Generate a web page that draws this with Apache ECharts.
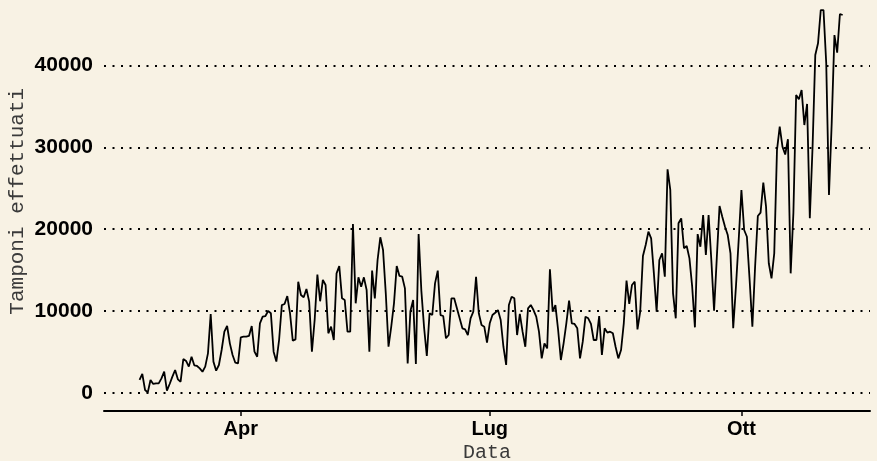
<!DOCTYPE html>
<html>
<head>
<meta charset="utf-8">
<script src="https://cdn.jsdelivr.net/npm/echarts@6/dist/echarts.min.js"></script>
<style>
  html, body { margin: 0; padding: 0; background: #f8f2e4; }
  #chart { width: 877px; height: 461px; }
</style>
</head>
<body>
<div id="chart"></div>
<script>
// daily tests, starting 2020-02-24
var firstDay = '2020-02-24';
var tamponi = [
  1590, 2320, 370, 80, 1590, 1100, 1180, 1180, 1790, 2600,
  290, 1100, 2000, 2810, 1670, 1380, 4150, 3910, 3220, 4430,
  3380, 3300, 3010, 2600, 3220, 4840, 9650, 3830, 2720, 3420,
  5250, 7490, 8180, 6060, 4640, 3700, 3620, 6800, 6880, 6880,
  6960, 8180, 5050, 4430, 8500, 9320, 9400, 10010, 9730, 5050,
  3830, 6470, 10740, 10870, 11840, 9730, 6390, 6550, 13590, 11970,
  11680, 12700, 11150, 5050, 8910, 14450, 11200, 13800, 13190, 7290,
  8100, 6470, 14610, 15510, 11560, 11350, 7490, 7490, 20630, 10950,
  14120, 12980, 14120, 12580, 5050, 14940, 11560, 16240, 19010, 17460,
  12170, 5650, 8100, 10950, 15510, 14290, 14200, 12780, 3620, 10000,
  11350, 3540, 19410, 12500, 8000, 4520, 9730, 9520, 13390, 14940,
  9520, 9400, 6680, 7080, 11560, 11560, 10340, 9120, 7900, 7780,
  7080, 9120, 9930, 14200, 9730, 8300, 8100, 6140, 8510, 9520,
  9800, 10130, 8910, 5650, 3420, 10740, 11760, 11560, 7080, 9650,
  7490, 5650, 10340, 10740, 10130, 9320, 7490, 4230, 6060, 5450,
  15100, 9930, 10740, 7690, 4030, 6060, 8510, 11270, 8510, 8430,
  7900, 4230, 6270, 9320, 9120, 8430, 6470, 6470, 9400, 4640,
  7900, 7370, 7490, 7290, 5650, 4230, 5250, 8510, 13720, 10870,
  13190, 13590, 7770, 9930, 16730, 18070, 19700, 18890, 14610, 9930,
  16240, 17060, 14200, 27310, 24790, 12170, 9120, 20720, 21330, 17670,
  17950, 16440, 12980, 8020, 19400, 17860, 21730, 16850, 21730, 16240,
  10050, 16500, 22830, 21530, 20310, 19290, 17060, 7900, 13000, 18680,
  24790, 19900, 19080, 13800, 8100, 15420, 21610, 22020, 25680, 22750,
  15840, 14000, 17060, 29670, 32520, 30080, 29120, 30980, 14610, 22000,
  36390, 35860, 37000, 32720, 35290, 21330, 30000, 41270, 42700, 46760,
  46760, 40260, 24180, 32930, 43710, 41550, 46280, 46150
];
var padBefore = 13;   // empty days shown before the first value
var padAfter = 10;    // empty days shown after the last value
var monthLabels = { '04': 'Apr', '07': 'Lug', '10': 'Ott' };
var yTicks = [0, 10000, 20000, 30000, 40000];

function dayString(offset) {
  var d = new Date(firstDay + 'T00:00:00Z');
  d.setUTCDate(d.getUTCDate() + offset);
  return d.toISOString().slice(0, 10);
}

var days = [];
for (var i = -padBefore; i < tamponi.length + padAfter; i++) {
  days.push(dayString(i));
}
var points = tamponi.map(function (v, i) { return [dayString(i), v]; });

function isQuarterStart(idx, val) {
  return val.slice(8) === '01' && monthLabels[val.slice(5, 7)] !== undefined;
}

var chart = echarts.init(document.getElementById('chart'));
chart.setOption({
  backgroundColor: '#f8f2e4',
  animation: false,
  grid: { left: 104, right: 7, top: -16.5, bottom: 68, outerBoundsMode: 'none', containLabel: false },
  xAxis: {
    type: 'category',
    data: days,
    boundaryGap: false,
    offset: 18,
    axisLine: { onZero: false, lineStyle: { color: '#000', width: 2 } },
    axisTick: { show: true, length: 5, interval: isQuarterStart, lineStyle: { color: '#000', width: 1.5 } },
    axisLabel: {
      interval: isQuarterStart,
      margin: 8,
      color: '#000',
      fontFamily: 'Liberation Sans',
      fontWeight: 'bold',
      fontSize: 20,
      formatter: function (val) { return monthLabels[val.slice(5, 7)]; }
    },
    splitLine: { show: false },
    name: 'Data',
    nameLocation: 'middle',
    nameGap: 32,
    nameMoveOverlap: false,
    nameTextStyle: { fontFamily: 'Liberation Mono', fontSize: 20, color: '#3a3a3a' }
  },
  yAxis: {
    type: 'value',
    min: 0,
    max: 50000,
    interval: 10000,
    axisLine: { show: false },
    axisTick: { show: false },
    axisLabel: {
      margin: 11,
      color: '#000',
      fontFamily: 'Liberation Sans',
      fontWeight: 'bold',
      fontSize: 21,
      formatter: function (v) { return yTicks.indexOf(v) >= 0 ? String(v) : ''; }
    },
    splitLine: { lineStyle: { color: '#000', width: 2, type: [2, 6.5] } },
    name: 'Tamponi effettuati',
    nameLocation: 'middle',
    nameRotate: 90,
    nameGap: 76,
    nameMoveOverlap: false,
    nameTextStyle: { fontFamily: 'Liberation Mono', fontSize: 21, color: '#3a3a3a', padding: [0, 26, 0, 0] }
  },
  series: [{
    type: 'line',
    data: points,
    showSymbol: false,
    lineStyle: { color: '#000', width: 1.8 }
  }]
});
</script>
</body>
</html>
